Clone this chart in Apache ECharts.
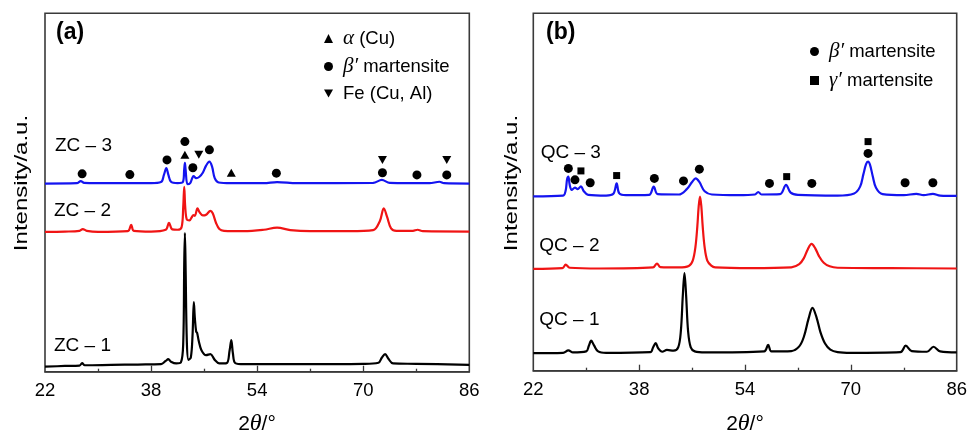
<!DOCTYPE html>
<html>
<head>
<meta charset="utf-8">
<script src="https://cdn.jsdelivr.net/npm/echarts@6/dist/echarts.min.js"></script>
<style>
html, body { margin: 0; padding: 0; background: #fff; }
#main { width: 978px; height: 434px; }
</style>
</head>
<body>
<div id="main"></div>
<script>
// axis ticks
const tickLabels = [22, 38, 54, 70, 86];
const majorTicks = [38, 54, 70];
const minorTicks = [30, 46, 62, 78];

// (a) ZC patterns, [2theta, intensity a.u.]
const zc1 = [[22,1.4],[25,1.6],[27.2,1.7],[27.6,2.4],[28,1.8],[32,1.9],[36,2.0],[39.5,2.1],[40.2,3.0],[40.6,3.5],[41.0,2.8],[41.8,2.3],[42.5,2.6],[42.85,8],[43.0,30],[43.1,38.7],[43.2,30],[43.4,8],[43.65,3.3],[44.0,4.0],[44.25,10],[44.45,19.4],[44.6,15],[44.8,11.2],[44.95,10.8],[45.2,8.5],[45.6,6.0],[46.3,4.6],[46.95,4.9],[47.6,3.3],[48.3,2.3],[49.4,2.4],[49.85,6],[50.1,8.8],[50.35,5],[50.7,2.4],[52,2.1],[60,2.1],[70,2.2],[72.3,2.5],[72.8,3.9],[73.3,4.9],[73.8,3.6],[74.5,2.3],[78,2.2],[86,1.9]];
const zc2 = [[22,39.0],[25,39.1],[27.2,39.3],[27.7,39.8],[28.3,39.3],[30,39.0],[34.5,39.2],[35.0,41.0],[35.4,39.3],[38,39.1],[40.2,39.6],[40.7,41.5],[41.2,39.7],[42.0,39.6],[42.6,40.3],[42.85,46],[43.0,51.6],[43.15,46],[43.4,42.4],[43.8,42.2],[44.1,43.0],[44.4,43.7],[44.6,43.5],[45.0,45.6],[45.3,44.5],[45.8,43.6],[46.3,43.8],[46.95,44.9],[47.3,44.2],[47.8,41.5],[48.3,39.8],[49,39.3],[52,39.2],[55,39.6],[57,40.2],[59,39.5],[62,39.2],[68,39.2],[71.5,39.5],[72.5,42],[73.1,45.6],[73.6,43.2],[74.2,40.0],[75,39.3],[77.5,39.3],[78.2,39.6],[79,39.2],[86,39.1]];
const zc3 = [[22,52.5],[26.8,52.6],[27.4,53.2],[27.9,52.7],[32,52.6],[38,52.6],[39.5,52.9],[39.95,55.0],[40.3,56.8],[40.6,55.0],[41.0,53.0],[42,52.6],[42.8,52.9],[43.0,56.5],[43.1,58.3],[43.2,56.5],[43.5,52.3],[43.9,52.6],[44.2,54.0],[44.4,54.6],[44.8,54.0],[45.3,54.4],[45.8,55.5],[46.3,57.5],[46.8,58.6],[47.2,57.2],[47.6,54.0],[48.2,52.8],[50,52.6],[55,52.6],[57,52.9],[60,52.6],[71.5,52.7],[72.8,53.5],[74,52.7],[80,52.6],[81.5,53.0],[82.2,52.6],[86,52.5]];

// (a) phase markers
const aAlpha = [[43.1,60.5],[50.1,55.5]];
const aBeta = [[27.6,55.2],[34.8,55.0],[40.4,59.1],[43.1,64.2],[44.3,56.9],[46.8,61.9],[56.9,55.4],[72.9,55.5],[78.1,54.9],[82.6,54.9]];
const aFe = [[45.2,60.5],[72.9,59.1],[82.6,59.1]];

// (b) QC patterns
const qc1 = [[22,4.9],[26.5,5.0],[27.3,5.7],[28,5.1],[30.0,5.4],[30.4,7.0],[30.75,8.4],[31.2,7.0],[31.8,5.4],[33,5.0],[39.7,5.2],[40.1,6.5],[40.5,7.7],[40.9,6.2],[41.5,5.3],[42.2,5.8],[43.2,5.6],[43.9,6.5],[44.3,11],[44.6,21],[44.85,27.3],[45.1,21],[45.4,11],[45.8,6.5],[46.4,5.4],[48,5.1],[56.9,5.4],[57.5,7.2],[58,5.4],[61,5.5],[62.2,6.8],[62.9,9.5],[63.6,14.5],[64.2,17.6],[64.8,15.0],[65.4,10.8],[66.1,7.6],[66.9,5.9],[68,5.2],[70,5.0],[77.5,5.2],[78.3,7.0],[79.2,5.5],[81.5,5.3],[82.5,6.7],[83.5,5.4],[86,5.1]];
const qc2 = [[22,28.5],[26.4,28.7],[26.9,29.7],[27.5,28.8],[32,28.6],[40.1,28.9],[40.7,30.0],[41.2,29.0],[44,28.9],[45.5,29.3],[46.1,30.8],[46.5,34.5],[46.8,40.5],[47.0,46],[47.2,48.7],[47.4,46],[47.6,40.5],[47.9,34.5],[48.3,30.8],[48.9,29.4],[49.5,28.9],[55,28.7],[61,28.9],[62.2,29.8],[62.9,31.5],[63.5,34.0],[64.06,35.5],[64.6,34.3],[65.2,32.0],[65.9,30.2],[66.8,29.2],[68,28.8],[76,28.7],[86,28.6]];
const qc3 = [[22,48.8],[26.5,49.0],[26.9,50.5],[27.1,53.5],[27.3,54.3],[27.5,52.0],[27.8,50.6],[28.3,51.2],[28.7,50.8],[29.2,51.6],[29.6,50.3],[30.3,49.2],[33,49.0],[34.1,49.5],[34.6,52.4],[35.0,49.6],[36,49.1],[39.5,49.2],[40.2,51.5],[40.8,49.4],[44,49.3],[45.2,50.8],[46.0,52.8],[46.55,53.8],[47.1,52.8],[47.9,50.2],[49,49.3],[53,49.1],[55.5,49.3],[56.0,50.0],[56.5,49.3],[59.3,49.4],[60.2,52.0],[60.9,49.8],[62,49.2],[68,49.0],[70.5,49.6],[71.4,51.5],[71.9,55.0],[72.3,57.8],[72.6,58.5],[72.9,57.6],[73.3,54.5],[73.8,51.2],[74.8,49.4],[78,49.1],[79.9,49.5],[81,49.1],[82.4,49.5],[83.5,49.0],[86,48.9]];

// (b) phase markers
const bBeta = [[27.3,56.6],[28.3,53.4],[30.6,52.6],[40.3,53.8],[44.7,53.1],[47.1,56.4],[57.7,52.4],[64.1,52.4],[72.6,60.8],[78.2,52.6],[82.4,52.6]];
const bGamma = [[29.2,55.9],[34.6,54.6],[60.3,54.3],[72.6,64.1]];

const FONT = 'Liberation Sans, Arial, sans-serif';
const frame = '#3a3a3a';
const downTri = 'path://M0,0L10,0L5,8.66Z';

function xAxes(gi) {
  return [{
    gridIndex: gi, type: 'value', min: 22, max: 86, position: 'bottom',
    axisLine: { lineStyle: { color: frame, width: 1.6 } },
    axisTick: { inside: true, length: 6, customValues: majorTicks, lineStyle: { color: frame, width: 1.3 } },
    axisLabel: { customValues: tickLabels, color: '#000', fontSize: 18.5, fontFamily: FONT, margin: 10 },
    splitLine: { show: false }
  }, {
    gridIndex: gi, type: 'value', min: 22, max: 86, position: 'bottom',
    axisLine: { show: false },
    axisTick: { inside: true, length: 3, customValues: minorTicks, lineStyle: { color: frame, width: 1.3 } },
    axisLabel: { show: false },
    splitLine: { show: false }
  }];
}

function yAxis(gi) {
  return { gridIndex: gi, type: 'value', min: 0, max: 100, show: false };
}

function curve(name, data, color, gi) {
  return {
    name: name, type: 'line', xAxisIndex: gi * 2, yAxisIndex: gi, data: data,
    showSymbol: false, smooth: 0.35, silent: true,
    lineStyle: { color: color, width: 2.2 }, itemStyle: { color: color }, z: 2
  };
}

function marks(name, data, symbol, size, gi) {
  return {
    name: name, type: 'scatter', xAxisIndex: gi * 2, yAxisIndex: gi, data: data,
    symbol: symbol, symbolSize: size, itemStyle: { color: '#000', opacity: 1 }, silent: true, z: 3
  };
}

const legendText = {
  'α (Cu)': '{s| }{g|α} (Cu)',
  'β′ martensite': '{s| }{g|β′} martensite',
  'Fe (Cu, Al)': '{s| }Fe (Cu, Al)',
  'γ′ martensite': '{s| }{g|γ′} martensite'
};
const legendRich = {
  s: { width: 5 },
  g: { fontFamily: 'Liberation Serif, serif', fontStyle: 'italic', fontSize: 21, color: '#000' }
};

function legend(names, left, top, gap) {
  return {
    data: names, orient: 'vertical', left: left, top: top, itemGap: gap,
    itemWidth: 9, itemHeight: 9, selectedMode: false,
    itemStyle: { opacity: 1 },
    formatter: n => legendText[n],
    textStyle: { color: '#000', fontSize: 18.5, fontFamily: FONT, rich: legendRich }
  };
}

function label(text, x, y, extra) {
  return {
    type: 'text', x: x, y: y, silent: true,
    style: Object.assign({ text: text, fill: '#000', fontSize: 19, fontFamily: FONT, verticalAlign: 'middle' }, extra || {})
  };
}

const thetaRich = { t: { fontFamily: 'Liberation Serif, serif', fontStyle: 'italic', fontSize: 24 } };

const chart = echarts.init(document.getElementById('main'));
chart.setOption({
  animation: false,
  backgroundColor: '#fff',
  grid: [
    { left: 45, right: 508.7, top: 13.3, bottom: 62.3, show: true, borderColor: frame, borderWidth: 1.6 },
    { left: 533.3, right: 21.3, top: 13.3, bottom: 63.3, show: true, borderColor: frame, borderWidth: 1.6 }
  ],
  xAxis: xAxes(0).concat(xAxes(1)),
  yAxis: [yAxis(0), yAxis(1)],
  legend: [
    legend(['α (Cu)', 'β′ martensite', 'Fe (Cu, Al)'], 319, 23, 7),
    legend(['β′ martensite', 'γ′ martensite'], 805, 36, 8)
  ],
  graphic: [
    label('(a)', 56, 33, { fontSize: 23, fontWeight: 'bold' }),
    label('(b)', 546, 33, { fontSize: 23, fontWeight: 'bold' }),
    label('ZC – 3', 55, 146),
    label('ZC – 2', 54, 211),
    label('ZC – 1', 54, 346),
    label('QC – 3', 540.7, 153),
    label('QC – 2', 539.3, 246),
    label('QC – 1', 539.3, 319.5),
    Object.assign(label('Intensity/a.u.', 21.7, 183, { align: 'center', fontSize: 18.5 }), { rotation: Math.PI / 2, scaleX: 1.3 }),
    Object.assign(label('Intensity/a.u.', 511.7, 183, { align: 'center', fontSize: 18.5 }), { rotation: Math.PI / 2, scaleX: 1.3 }),
    label('2{t|θ}/°', 257, 424, { align: 'center', fontSize: 21, rich: thetaRich }),
    label('2{t|θ}/°', 745, 424, { align: 'center', fontSize: 21, rich: thetaRich })
  ],
  series: [
    curve('ZC-1', zc1, '#000000', 0),
    curve('ZC-2', zc2, '#f01414', 0),
    curve('ZC-3', zc3, '#1414f0', 0),
    marks('α (Cu)', aAlpha, 'triangle', [9, 8], 0),
    marks('β′ martensite', aBeta, 'circle', 9, 0),
    marks('Fe (Cu, Al)', aFe, downTri, [9, 8], 0),
    curve('QC-1', qc1, '#000000', 1),
    curve('QC-2', qc2, '#f01414', 1),
    curve('QC-3', qc3, '#1414f0', 1),
    marks('β′ martensite', bBeta, 'circle', 9, 1),
    marks('γ′ martensite', bGamma, 'rect', 7, 1)
  ]
});
window.addEventListener('resize', () => chart.resize());
</script>
</body>
</html>
